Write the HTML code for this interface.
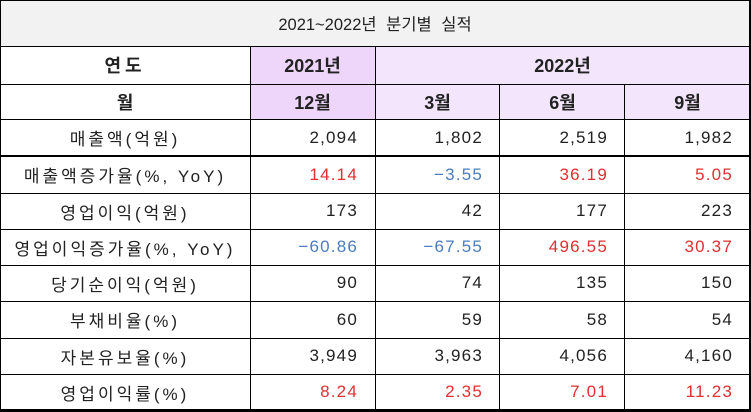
<!DOCTYPE html><html><head><meta charset="utf-8"><style>
body{margin:0;width:751px;height:412px;background:#fff;position:relative;overflow:hidden;font-family:"Liberation Sans","Noto Sans CJK KR",sans-serif;color:#222}
.c{position:absolute;box-sizing:border-box;display:flex;align-items:center;font-size:17px}
.l{justify-content:center;letter-spacing:3px}
.n{justify-content:flex-end;padding-right:17px;letter-spacing:1.2px}
.h{justify-content:center;font-weight:bold;font-size:18px}
.hl{position:absolute;background:#000}
.r{color:#e03030}.b{color:#4a7cc0}
</style></head><body>
<div class="c" style="left:0;top:0;width:750px;height:46px;background:#f2f2f2;justify-content:center;font-size:16.5px;word-spacing:5px">2021~2022년 분기별 실적</div>
<div class="c" style="left:250px;top:46px;width:125px;height:73px;background:#eed6fa"></div>
<div class="c" style="left:375px;top:46px;width:375px;height:73px;background:#f3e6fc"></div>
<div class="c h" style="left:0;top:46px;width:250px;height:38px;letter-spacing:4px">연도</div>
<div class="c h" style="left:250px;top:46px;width:125px;height:38px">2021년</div>
<div class="c h" style="left:375px;top:46px;width:375px;height:38px">2022년</div>
<div class="c h" style="left:0;top:84px;width:250px;height:35px">월</div>
<div class="c h" style="left:250px;top:84px;width:125px;height:35px">12월</div>
<div class="c h" style="left:375px;top:84px;width:125px;height:35px">3월</div>
<div class="c h" style="left:500px;top:84px;width:125px;height:35px">6월</div>
<div class="c h" style="left:625px;top:84px;width:125px;height:35px">9월</div>
<div id="rows"></div>
<script>
var rows=[["매출액(억원)","2,094","1,802","2,519","1,982"],
["매출액증가율(%, YoY)","r14.14","b−3.55","r36.19","r5.05"],
["영업이익(억원)","173","42","177","223"],
["영업이익증가율(%, YoY)","b−60.86","b−67.55","r496.55","r30.37"],
["당기순이익(억원)","90","74","135","150"],
["부채비율(%)","60","59","58","54"],
["자본유보율(%)","3,949","3,963","4,056","4,160"],
["영업이익률(%)","r8.24","r2.35","r7.01","r11.23"]];
var tops=[119,156,193,229,265,301,338,374,410];
var h="";
rows.forEach(function(r,i){var t=tops[i],ht=tops[i+1]-t;
h+='<div class="c l" style="left:0;top:'+t+'px;width:250px;height:'+ht+'px">'+r[0]+'</div>';
for(var j=1;j<5;j++){var v=r[j],cl="";if(v[0]=="r"||v[0]=="b"){cl=v[0];v=v.slice(1);}
h+='<div class="c n '+cl+'" style="left:'+(250+(j-1)*125)+'px;top:'+t+'px;width:125px;height:'+ht+'px">'+v+'</div>';}});
[0,46,84,119,193,229,265,301,338,374,409].forEach(function(y){h+='<div class="hl" style="left:0;top:'+y+'px;width:751px;height:1px"></div>';});
h+='<div class="hl" style="left:0;top:155px;width:751px;height:2px"></div>';
h+='<div class="hl" style="left:0;top:410px;width:751px;height:2px"></div>';
h+='<div class="hl" style="left:0;top:0;width:1px;height:412px"></div>';
h+='<div class="hl" style="left:749px;top:0;width:2px;height:412px"></div>';
h+='<div class="hl" style="left:250px;top:46px;width:1px;height:366px"></div>';
h+='<div class="hl" style="left:375px;top:46px;width:1px;height:366px"></div>';
h+='<div class="hl" style="left:499px;top:84px;width:1px;height:328px"></div>';
h+='<div class="hl" style="left:624px;top:84px;width:1px;height:328px"></div>';
document.getElementById("rows").innerHTML=h;
</script>
</body></html>
